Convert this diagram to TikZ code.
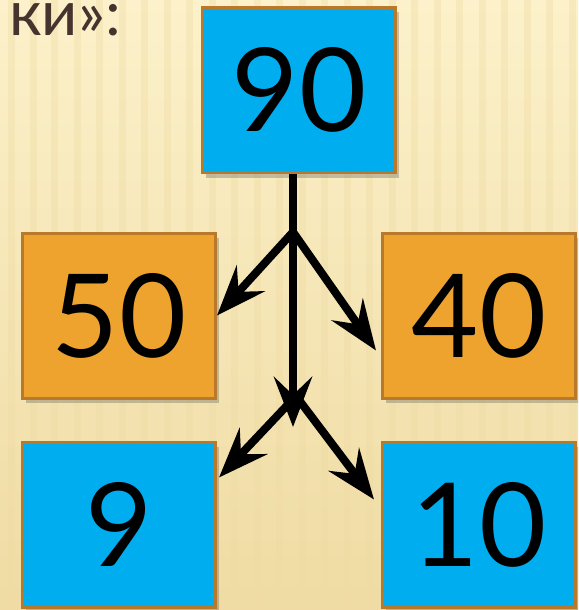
\documentclass[tikz,border=0pt]{standalone}
\usepackage{fontspec}
\setmainfont{Lato}
\usepackage{xcolor}
\usetikzlibrary{positioning,arrows.meta,shadows,calc}
\definecolor{boxblue}{HTML}{00AEEF}
\definecolor{boxorange}{HTML}{EEA32E}
\definecolor{boxedge}{HTML}{B8792A}
\definecolor{inkbrown}{HTML}{45342E}
\definecolor{paperlight}{HTML}{FCF1CA}
\definecolor{paperdark}{HTML}{EFDBA3}

\begin{document}
\begin{tikzpicture}[
  x=1pt, y=-1pt,
  numbox/.style={rectangle, draw=boxedge, line width=3pt, minimum width=193pt,
                 minimum height=165pt, inner sep=0pt,
                 font=\fontsize{116}{120}\selectfont,
                 drop shadow={shadow xshift=3pt, shadow yshift=-5pt,
                              opacity=.3, fill=black!70}},
  arrow/.style={-{Stealth[length=50pt,width=38pt,inset=18pt]}, line width=8pt},
  stripe/.style={fill=paperdark, opacity=.35}
]
  \useasboundingbox (0,0) rectangle (578,610);
  \clip (0,0) rectangle (578,610);
  % paper background
  \shade[top color=paperlight, bottom color=paperdark] (0,0) rectangle (578,610);
  \foreach \x in {8,30,51,74,96,119,141,164,186,209,231,254,276,299,321,344,366,389,411,434,456,479,501,524,546,569}
    \fill[stripe] (\x,0) rectangle ++(7,610);

  \node[anchor=base east, inner sep=0pt, text=inkbrown,
        font=\fontsize{63}{66}\selectfont] (caption) at (121,36) {ки»:};

  \node[numbox, fill=boxblue] (n90) at (299,90) {90};
  \node[numbox, fill=boxorange] (n50) at (119,315.5) {50};
  \node[numbox, fill=boxorange, right=164pt of n50] (n40) {40};
  \node[numbox, fill=boxblue, below=41pt of n50] (n9) {9};
  \node[numbox, fill=boxblue, below=41pt of n40] (n10) {10};

  \coordinate (fork1) at (293,232);
  \coordinate (fork2) at (296,396);
  \coordinate (tail) at (293,427);

  \draw[arrow] ([xshift=-6pt]n90.south) -- (tail);
  \draw[arrow] (fork1) -- (n50.east);
  \draw[arrow] (fork1) -- ([xshift=-5pt,yshift=-35pt]n40.west);
  \draw[arrow] (fork2) -- ([xshift=2pt,yshift=47pt]n9.east);
  \draw[arrow] (fork2) -- ([xshift=-7pt,yshift=25pt]n10.west);
\end{tikzpicture}
\end{document}
